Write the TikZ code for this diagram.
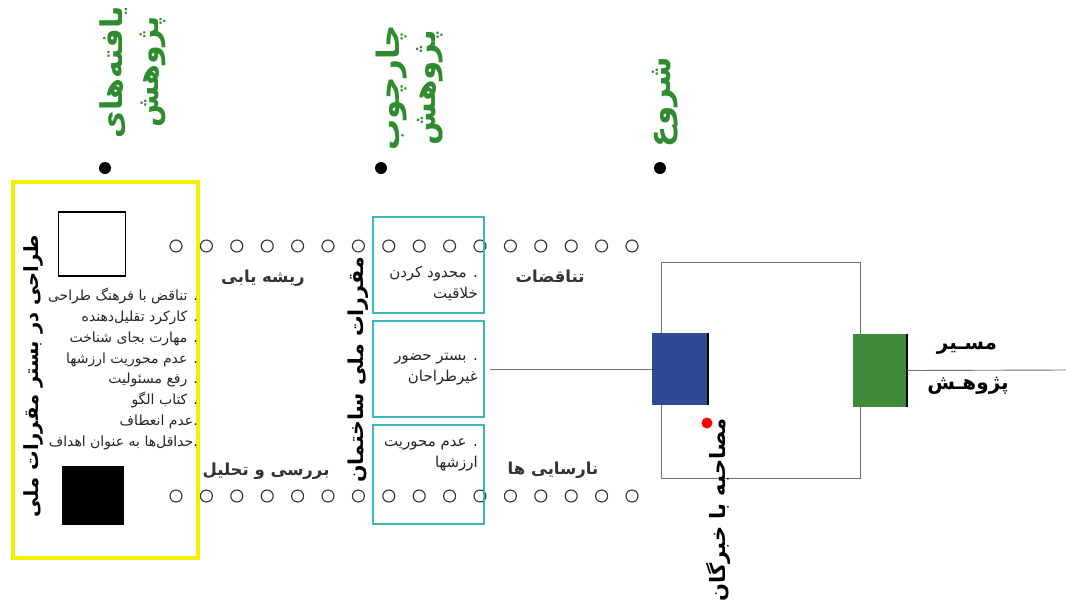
\documentclass[tikz,border=0pt]{standalone}
\usepackage{fontspec}
\setmainfont{DejaVu Sans}
\newfontfamily\ar[Script=Arabic]{DejaVu Sans}
\TeXXeTstate=1
\newcommand{\myR}[1]{\beginR #1\endR}
\definecolor{tgreen}{HTML}{2E8B2E}
\definecolor{cyanc}{HTML}{3DB5C2}
\definecolor{bluebox}{HTML}{2E4A94}
\definecolor{greenbox}{HTML}{3E8A3A}
\definecolor{yel}{HTML}{F5F000}
\begin{document}
\begin{tikzpicture}[x=1pt,y=-1pt,
  title/.style={text=tgreen, font=\ar\bfseries\fontsize{30}{36}\selectfont, rotate=90, align=center, inner sep=0},
  vtext/.style={text=black, font=\ar\bfseries\fontsize{19.5}{24}\selectfont, rotate=90, inner sep=0},
  blackdot/.style={circle, fill=black, minimum size=12pt, inner sep=0},
  ring/.style={circle, draw=black!80, line width=1.1pt, minimum size=12pt, inner sep=0},
  cbox/.style={draw=cyanc, line width=1.8pt, minimum width=111pt, minimum height=96pt, inner sep=0},
  listtxt/.style={font=\ar\fontsize{14}{20.8}\selectfont, align=right, inner sep=0, text=black!85},
  boxtxt/.style={font=\ar\fontsize{15}{21}\selectfont, align=right, inner sep=0, text=black!85},
  lbl/.style={font=\ar\bfseries\fontsize{16.5}{19}\selectfont, inner sep=0, text=black!80},
  conn/.style={draw=black!55, line width=0.9pt},
]
\useasboundingbox (0,0) rectangle (1066,614);
\fill[white] (0,0) rectangle (1066,614);

% titles
\node[title] (t1) at (133,72) {\myR{یافته‌های}\\\myR{پژوهش}};
\node[title, font=\ar\bfseries\fontsize{31}{36}\selectfont] (t2) at (410,88) {\myR{چارچوب}\\\myR{پژوهش}};
\node[title, font=\ar\bfseries\fontsize{31}{36}\selectfont] (t3) at (665,102) {\myR{شروع}};

\node[blackdot] (d1) at (105,168) {};
\node[blackdot] (d2) at (381,168) {};
\node[blackdot] (d3) at (660,168) {};

% yellow panel
\node[draw=yel, line width=3.5pt, minimum width=185pt, minimum height=376pt, inner sep=0] (panel) at (105.5,370) {};
\node[draw=black, line width=1.6pt, minimum width=67pt, minimum height=64pt, inner sep=0] (wsq) at (92,244) {};
\node[fill=black, minimum width=62pt, minimum height=59pt, inner sep=0] (bsq) at (93,495) {};
\node[vtext] (vt1) at (33,376) {\myR{طراحی در بستر مقررات ملی}};

\node[listtxt, anchor=north east] (list) at (198,288) {%
\myR{. تناقض با فرهنگ طراحی}\\
\myR{. کارکرد تقلیل‌دهنده}\\
\myR{. مهارت بجای شناخت}\\
\myR{. عدم محوریت ارزشها}\\
\myR{. رفع مسئولیت}\\
\myR{. کتاب الگو}\\
\myR{.عدم انعطاف}\\
\myR{.حداقل‌ها به عنوان اهداف}};

% rows of rings
\foreach \i in {0,...,15} {
  \node[ring] (top\i) at ({176+30.4*\i},246) {};
  \node[ring] (bot\i) at ({176+30.4*\i},496) {};
}

% cyan boxes
\node[cbox] (b1) at (428.5,265) {};
\node[cbox] (b2) at (428.5,369) {};
\node[cbox, minimum height=99pt] (b3) at (428.5,474.5) {};

\node[boxtxt, anchor=east] (bt1) at (478,283) {\myR{. محدود کردن}\\\myR{خلاقیت}};
\node[boxtxt, anchor=east] (bt2) at (478,369) {\myR{. بستر حضور}\\\myR{غیرطراحان}};
\node[boxtxt, anchor=east] (bt3) at (478,455) {\myR{. عدم محوریت}\\\myR{ارزشها}};

\node[vtext, font=\ar\bfseries\fontsize{20.5}{24}\selectfont] (vt2) at (358,370) {\myR{مقررات ملی ساختمان}};

% bold labels
\node[lbl] (l1) at (263,278) {\myR{ریشه یابی}};
\node[lbl] (l2) at (266,471) {\myR{بررسی و تحلیل}};
\node[lbl] (l3) at (550,276) {\myR{تناقضات}};
\node[lbl] (l4) at (553,470) {\myR{نارسایی ها}};

% right part
\coordinate (rtl) at (661,262);
\coordinate (rtr) at (860,262);
\coordinate (rbl) at (661,478);
\coordinate (rbr) at (860,478);
\coordinate (rend) at (1066,370);
\draw[conn] (rtl) -- (rtr) -- (rbr) -- (rbl) -- cycle;

\node[fill=bluebox, minimum width=56pt, minimum height=72pt, inner sep=0] (blue) at (680,369) {};
\node[fill=greenbox, minimum width=54pt, minimum height=73pt, inner sep=0] (green) at (880,370.5) {};
\draw[line width=2.5pt] (blue.north east) -- (blue.south east);
\draw[line width=2.5pt] (green.north east) -- (green.south east);

\draw[conn] (b2.east) ++(5,0) -- (blue.west);
\draw[conn] (green.east) -- (rend);

\node[circle, fill=red, minimum size=11pt, inner sep=0] (red) at (707,423) {};
\node[vtext, anchor=east, font=\ar\bfseries\fontsize{21}{25}\selectfont] (vt3) at (719,418) {\myR{مصاحبه با خبرگان}};

\node[font=\ar\bfseries\fontsize{20}{24}\selectfont, inner sep=0] (m1) at (967,348) {\myR{مسـیر}};
\node[font=\ar\bfseries\fontsize{20}{24}\selectfont, inner sep=0] (m2) at (968,386) {\myR{پژوهـش}};
\end{tikzpicture}
\end{document}
